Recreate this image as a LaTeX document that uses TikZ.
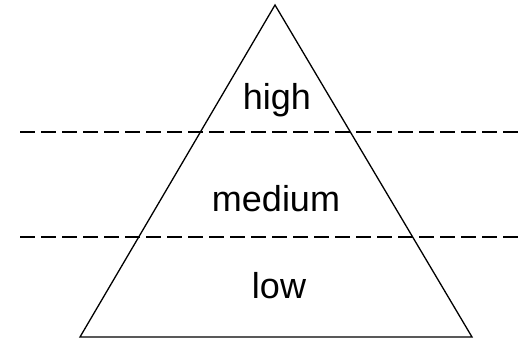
\documentclass[tikz,border=0pt]{standalone}
\usepackage{fontspec}
\setmainfont{Liberation Sans}
\begin{document}
\begin{tikzpicture}[x=1pt,y=-1pt,
  edge/.style={line width=1.3pt,line join=miter},
  sep/.style={line width=1.3pt,dash pattern=on 15pt off 6pt},
  lbl/.style={anchor=base,inner sep=0pt,font=\fontsize{36}{42}\selectfont}]
\useasboundingbox (0,0) rectangle (525,341);
\coordinate (apex) at (275,5);
\coordinate (bl) at (80,337);
\coordinate (br) at (472,337);
\draw[edge] (apex) -- (br) -- (bl) -- cycle;
\coordinate (d1l) at (20,132);
\coordinate (d1r) at (520,132);
\coordinate (d2l) at (20,237);
\coordinate (d2r) at (520,237);
\draw[sep] (d1l) -- (d1r);
\draw[sep] (d2l) -- (d2r);
\node[lbl] (high) at (277,109) {high};
\node[lbl] (medium) at (276,211) {medium};
\node[lbl] (low) at (279,298) {low};
\end{tikzpicture}
\end{document}
